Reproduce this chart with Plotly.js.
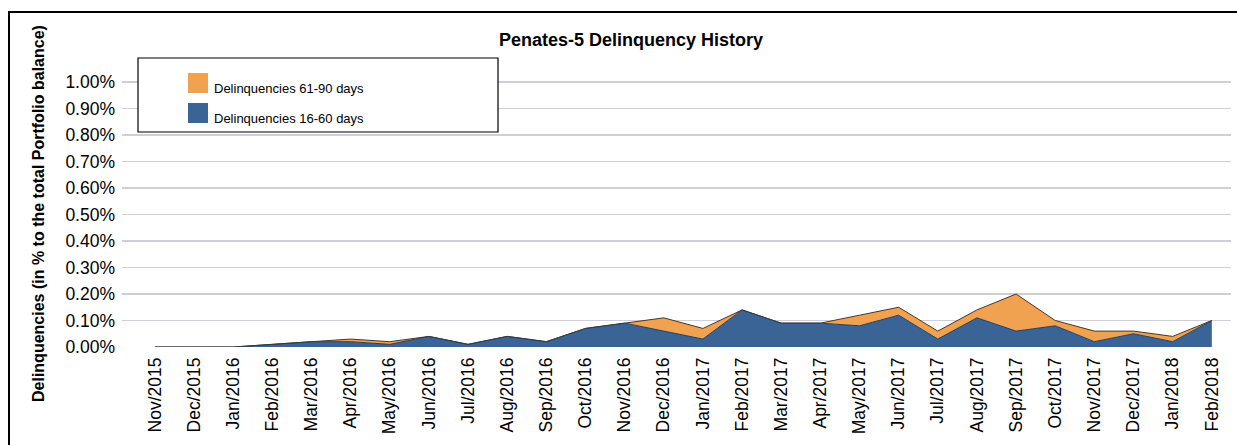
<!DOCTYPE html>
<html><head><meta charset="utf-8">
<script src="https://cdn.plot.ly/plotly-3.0.1.min.js"></script>
<style>
html,body{margin:0;padding:0;background:#fff;overflow:hidden;width:1237px;height:445px}
#chart{position:absolute;left:0;top:0;width:1237px;height:445px}
#frame{position:absolute;left:8px;top:11px;width:1229px;height:434px;border-left:2px solid #000;border-top:2px solid #000;pointer-events:none;box-sizing:border-box}
</style></head><body>
<div id="chart"></div><div id="frame"></div>
<script>
// ---- data ----
const months = ['Nov/2015','Dec/2015','Jan/2016','Feb/2016','Mar/2016','Apr/2016','May/2016','Jun/2016','Jul/2016','Aug/2016','Sep/2016','Oct/2016','Nov/2016','Dec/2016','Jan/2017','Feb/2017','Mar/2017','Apr/2017','May/2017','Jun/2017','Jul/2017','Aug/2017','Sep/2017','Oct/2017','Nov/2017','Dec/2017','Jan/2018','Feb/2018'];
// values in % of total portfolio balance
const del16_60 = [0,0,0,0.01,0.02,0.02,0.01,0.04,0.01,0.04,0.02,0.07,0.09,0.06,0.03,0.14,0.09,0.09,0.08,0.12,0.03,0.11,0.06,0.08,0.02,0.05,0.02,0.10];
const del61_90 = [0,0,0,0,0,0.01,0.01,0,0,0,0,0,0,0.05,0.04,0,0,0,0.04,0.03,0.03,0.03,0.14,0.02,0.04,0.01,0.02,0];
const seriesNames = ['Delinquencies 61-90 days','Delinquencies 16-60 days'];
const yTickVals = [0,0.1,0.2,0.3,0.4,0.5,0.6,0.7,0.8,0.9,1.0];
const yTickText = ['0.00%','0.10%','0.20%','0.30%','0.40%','0.50%','0.60%','0.70%','0.80%','0.90%','1.00%'];
const chartTitle = 'Penates-5 Delinquency History';
const yTitle = 'Delinquencies (in % to the total Portfolio balance)';

// ---- styling ----
const FONT = 'Liberation Sans, Arial, Helvetica, sans-serif';
const ORANGE = '#F0A250', BLUE = '#3A6496', EDGE = '#3a3a3a';
const W = 1237, H = 445, ML = 122, MR = 6, MT = 81, MB = 98;
const PW = W - ML - MR, PH = H - MT - MB;
const px = x => (x - ML) / PW;          // pixel -> paper x
const py = y => (H - MB - y) / PH;      // pixel -> paper y

const traces = [
  {x: months, y: del16_60, name: seriesNames[1], type: 'scatter', mode: 'lines', stackgroup: 'one',
   line: {color: EDGE, width: 1}, fillcolor: BLUE, hoverinfo: 'x+y+name'},
  {x: months, y: del61_90, name: seriesNames[0], type: 'scatter', mode: 'lines', stackgroup: 'one',
   line: {color: EDGE, width: 1}, fillcolor: ORANGE, hoverinfo: 'x+y+name'}
];

const legendColors = [ORANGE, BLUE];
const shapes = [
  {type: 'rect', xref: 'paper', yref: 'paper', x0: px(138), x1: px(498), y0: py(132), y1: py(58),
   line: {color: '#000', width: 1.2}, fillcolor: '#fff', layer: 'above'}
];
const annotations = [
  {xref: 'paper', yref: 'paper', x: px(38), y: 0.5, xanchor: 'center', yanchor: 'middle', textangle: -90,
   text: yTitle, showarrow: false, font: {family: FONT, size: 16, color: '#000', weight: 'bold'}}
];
seriesNames.forEach((n, i) => {
  const top = 73 + 30 * i;
  shapes.push({type: 'rect', xref: 'paper', yref: 'paper', x0: px(188), x1: px(208), y0: py(top + 20), y1: py(top),
    line: {width: 0}, fillcolor: legendColors[i], layer: 'above'});
  annotations.push({xref: 'paper', yref: 'paper', x: px(212), y: py(top + 15.5), xanchor: 'left', yanchor: 'middle',
    text: n, showarrow: false, font: {family: FONT, size: 13, color: '#000'}});
});

const layout = {
  width: W, height: H,
  margin: {l: ML, r: MR, t: MT, b: MB, pad: 0},
  paper_bgcolor: 'rgba(0,0,0,0)', plot_bgcolor: '#fff',
  showlegend: false,
  font: {family: FONT, color: '#000'},
  title: {text: chartTitle, x: 631 / W, xref: 'container', xanchor: 'center', y: 1 - 40 / H, yref: 'container', yanchor: 'middle',
          font: {family: FONT, size: 18, color: '#000', weight: 'bold'}},
  xaxis: {type: 'category', categoryorder: 'array', categoryarray: months, range: [-0.84, 27.49],
          showgrid: false, zeroline: false, showline: false, ticks: '', tickangle: -90,
          tickfont: {family: FONT, size: 17.5, color: '#000'}, ticklabelstandoff: 6, fixedrange: true},
  yaxis: {range: [0, 1.0038], tickmode: 'array', tickvals: yTickVals, ticktext: yTickText,
          showgrid: true, gridcolor: '#cfcfdc', gridwidth: 1.3, zeroline: false, showline: false, ticks: '',
          tickfont: {family: FONT, size: 17.5, color: '#000'}, ticklabelstandoff: 6, fixedrange: true},
  shapes: shapes,
  annotations: annotations
};
Plotly.newPlot('chart', traces, layout, {displayModeBar: false, staticPlot: true});
</script>
</body></html>
